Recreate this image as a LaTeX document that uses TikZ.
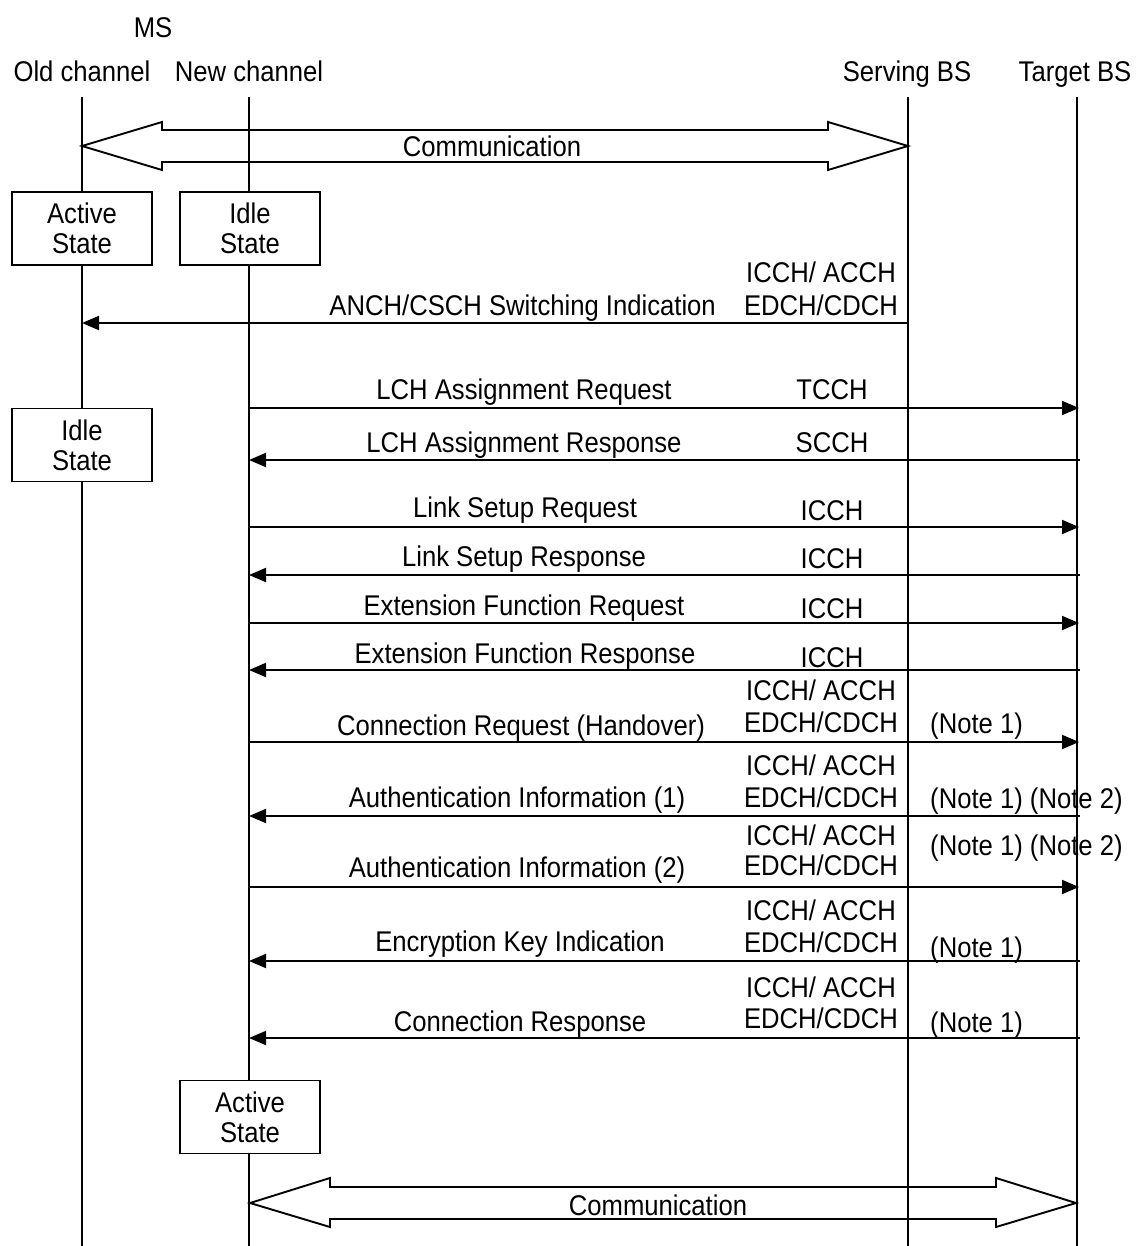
\documentclass[tikz,border=0pt]{standalone}
\usepackage{fontspec}
\setmainfont{Liberation Sans}[FakeStretch=0.9]
\usetikzlibrary{arrows.meta,calc}
\begin{document}
\begin{tikzpicture}[x=1pt,y=-1pt,
  txt/.style={inner sep=0pt,font=\fontsize{28.5}{30}\selectfont},
  life/.style={line width=1.4pt},
  msg/.style={line width=1.9pt,-{Triangle[length=17pt,width=14pt]}},
  statebox/.style={draw,line width=1.9pt,fill=white,minimum width=140pt,minimum height=73pt,inner sep=0pt,align=center,font=\fontsize{28.5}{30}\selectfont},
  dbl/.style={line width=1.9pt,line join=miter}]
\useasboundingbox (0,0) rectangle (1137,1246);

% headers
\node[txt,anchor=base] (ms) at (153,38) {MS};
\node[txt,anchor=base] (hold) at (82,82) {Old channel};
\node[txt,anchor=base] (hnew) at (249,82) {New channel};
\node[txt,anchor=base] (hsbs) at (907,82) {Serving BS};
\node[txt,anchor=base] (htbs) at (1075,82) {Target BS};

% lifelines
\coordinate (oT) at (82,97);   \coordinate (oB) at (82,1246);
\coordinate (nT) at (249,97);  \coordinate (nB) at (249,1246);
\coordinate (sT) at (908,97);  \coordinate (sB) at (908,1246);
\coordinate (tT) at (1077,97); \coordinate (tB) at (1077,1246);
\draw[life] (oT) -- (oB);
\draw[life] (nT) -- (nB);
\draw[life] (sT) -- (sB);
\draw[life] (tT) -- (tB);

% top communication double arrow
\coordinate (c1l) at (82,146);
\coordinate (c1r) at (908,146);
\draw[dbl] (c1l) -- ($(c1l)+(80,-24)$) -- ($(c1l)+(80,-16)$) -- ($(c1r)+(-80,-16)$) -- ($(c1r)+(-80,-24)$) -- (c1r)
  -- ($(c1r)+(-80,24)$) -- ($(c1r)+(-80,16)$) -- ($(c1l)+(80,16)$) -- ($(c1l)+(80,24)$) -- cycle;
\node[txt,anchor=base] (comm1) at (492,157) {Communication};

% state boxes
\node[statebox] (act1) at (82,228.5) {Active\\State};
\node[statebox] (idle1) at (250,228.5) {Idle\\State};
\node[statebox] (idle2) at (82,445) {Idle\\State};
\node[statebox] (act2) at (250,1117) {Active\\State};

% 1 ANCH/CSCH switching indication
\coordinate (m1s) at (908,323); \coordinate (m1e) at (82,323);
\draw[msg] (m1s) -- (m1e);
\node[txt,anchor=base east] (l1) at (716,316) {ANCH/CSCH Switching Indication};
\node[txt,anchor=base] (c1a) at (821,283) {ICCH/ ACCH};
\node[txt,anchor=base] (c1b) at (821,316) {EDCH/CDCH};

% 2 LCH assignment request
\coordinate (m2s) at (249,408); \coordinate (m2e) at (1079,408);
\draw[msg] (m2s) -- (m2e);
\node[txt,anchor=base] (l2) at (524,399) {LCH Assignment Request};
\node[txt,anchor=base] (c2) at (832,399) {TCCH};

% 3 LCH assignment response
\coordinate (m3s) at (1080,460); \coordinate (m3e) at (249,460);
\draw[msg] (m3s) -- (m3e);
\node[txt,anchor=base] (l3) at (524,452) {LCH Assignment Response};
\node[txt,anchor=base] (c3) at (832,452) {SCCH};

% 4 link setup request
\coordinate (m4s) at (249,527); \coordinate (m4e) at (1079,527);
\draw[msg] (m4s) -- (m4e);
\node[txt,anchor=base] (l4) at (525,517) {Link Setup Request};
\node[txt,anchor=base] (c4) at (832,520) {ICCH};

% 5 link setup response
\coordinate (m5s) at (1080,575); \coordinate (m5e) at (249,575);
\draw[msg] (m5s) -- (m5e);
\node[txt,anchor=base] (l5) at (524,566) {Link Setup Response};
\node[txt,anchor=base] (c5) at (832,568) {ICCH};

% 6 extension function request
\coordinate (m6s) at (249,623); \coordinate (m6e) at (1079,623);
\draw[msg] (m6s) -- (m6e);
\node[txt,anchor=base] (l6) at (524,615) {Extension Function Request};
\node[txt,anchor=base] (c6) at (832,618) {ICCH};

% 7 extension function response
\coordinate (m7s) at (1080,670); \coordinate (m7e) at (249,670);
\draw[msg] (m7s) -- (m7e);
\node[txt,anchor=base] (l7) at (525,663) {Extension Function Response};
\node[txt,anchor=base] (c7) at (832,667) {ICCH};

% 8 connection request
\coordinate (m8s) at (249,742); \coordinate (m8e) at (1079,742);
\draw[msg] (m8s) -- (m8e);
\node[txt,anchor=base] (l8) at (521,735) {Connection Request (Handover)};
\node[txt,anchor=base] (c8a) at (821,700) {ICCH/ ACCH};
\node[txt,anchor=base] (c8b) at (821,732) {EDCH/CDCH};
\node[txt,anchor=base west] (n8) at (930,733) {(Note 1)};

% 9 authentication information (1)
\coordinate (m9s) at (1080,816); \coordinate (m9e) at (249,816);
\draw[msg] (m9s) -- (m9e);
\node[txt,anchor=base] (l9) at (517,807) {Authentication Information (1)};
\node[txt,anchor=base] (c9a) at (821,775) {ICCH/ ACCH};
\node[txt,anchor=base] (c9b) at (821,807) {EDCH/CDCH};
\node[txt,anchor=base west] (n9) at (930,808) {(Note 1) (Note 2)};

% 10 authentication information (2)
\coordinate (m10s) at (249,887); \coordinate (m10e) at (1079,887);
\draw[msg] (m10s) -- (m10e);
\node[txt,anchor=base] (l10) at (517,877) {Authentication Information (2)};
\node[txt,anchor=base] (c10a) at (821,845) {ICCH/ ACCH};
\node[txt,anchor=base] (c10b) at (821,875) {EDCH/CDCH};
\node[txt,anchor=base west] (n10) at (930,855) {(Note 1) (Note 2)};

% 11 encryption key indication
\coordinate (m11s) at (1080,961); \coordinate (m11e) at (249,961);
\draw[msg] (m11s) -- (m11e);
\node[txt,anchor=base] (l11) at (520,951) {Encryption Key Indication};
\node[txt,anchor=base] (c11a) at (821,920) {ICCH/ ACCH};
\node[txt,anchor=base] (c11b) at (821,952) {EDCH/CDCH};
\node[txt,anchor=base west] (n11) at (930,957) {(Note 1)};

% 12 connection response
\coordinate (m12s) at (1080,1038); \coordinate (m12e) at (249,1038);
\draw[msg] (m12s) -- (m12e);
\node[txt,anchor=base] (l12) at (520,1031) {Connection Response};
\node[txt,anchor=base] (c12a) at (821,997) {ICCH/ ACCH};
\node[txt,anchor=base] (c12b) at (821,1028) {EDCH/CDCH};
\node[txt,anchor=base west] (n12) at (930,1032) {(Note 1)};

% bottom communication double arrow
\coordinate (c2l) at (250,1203);
\coordinate (c2r) at (1076,1203);
\draw[dbl] (c2l) -- ($(c2l)+(80,-25)$) -- ($(c2l)+(80,-16)$) -- ($(c2r)+(-80,-16)$) -- ($(c2r)+(-80,-25)$) -- (c2r)
  -- ($(c2r)+(-80,24)$) -- ($(c2r)+(-80,16)$) -- ($(c2l)+(80,16)$) -- ($(c2l)+(80,24)$) -- cycle;
\node[txt,anchor=base] (comm2) at (658,1215) {Communication};
\end{tikzpicture}
\end{document}
